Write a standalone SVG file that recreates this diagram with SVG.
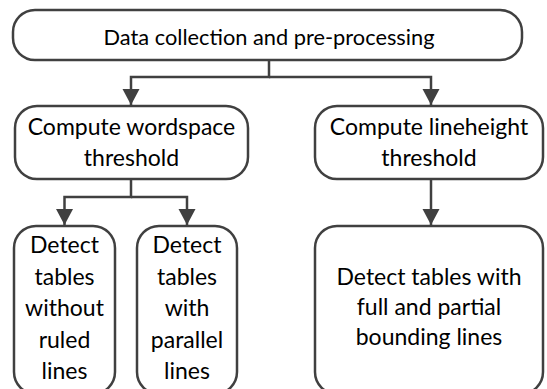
<svg xmlns="http://www.w3.org/2000/svg" width="547" height="389" viewBox="0 0 547 389">
<defs>
<marker id="arr" markerUnits="userSpaceOnUse" markerWidth="18" markerHeight="18" viewBox="0 0 18 18" refX="16" refY="9" orient="auto">
<path d="M0,0.5 L16,9 L0,17.5 Z" fill="#404040"/>
</marker>
<style>
.box{fill:#fff;stroke:#404040;stroke-width:2.5}
.t{font-family:Lato,"Noto Sans",sans-serif;font-size:23px;fill:#000;text-anchor:middle}
.c{fill:none;stroke:#404040;stroke-width:2.5}
</style>
</defs>
<rect width="547" height="389" fill="#fff"/>
<g id="connectors">
<path class="c" d="M269,60 V77 H131 V105" marker-end="url(#arr)"/>
<path class="c" d="M269,77 H431 V105" marker-end="url(#arr)"/>
<path class="c" d="M131,179 V197 H64.5 V225" marker-end="url(#arr)"/>
<path class="c" d="M131,197 H187 V225" marker-end="url(#arr)"/>
<path class="c" d="M431,179 V225" marker-end="url(#arr)"/>
</g>
<g id="data">
<rect class="box" x="13" y="10" width="509" height="50" rx="22"/>
<text class="t" x="269" y="45" style="font-size:21.8px">Data collection and pre-processing</text>
</g>
<g id="wordspace">
<rect class="box" x="15" y="106" width="233" height="73" rx="22"/>
<text class="t" x="131.5" y="135">Compute wordspace</text>
<text class="t" x="131.5" y="165.5">threshold</text>
</g>
<g id="lineheight">
<rect class="box" x="315" y="106" width="228" height="73" rx="22"/>
<text class="t" x="429" y="135">Compute lineheight</text>
<text class="t" x="429" y="165.5">threshold</text>
</g>
<g id="without">
<rect class="box" x="14" y="226" width="101" height="168" rx="22"/>
<text class="t" x="64.5" y="253">Detect</text>
<text class="t" x="64.5" y="284.5">tables</text>
<text class="t" x="64.5" y="316">without</text>
<text class="t" x="64.5" y="347.5">ruled</text>
<text class="t" x="64.5" y="379">lines</text>
</g>
<g id="parallel">
<rect class="box" x="137" y="226" width="100" height="168" rx="22"/>
<text class="t" x="187" y="253">Detect</text>
<text class="t" x="187" y="284.5">tables</text>
<text class="t" x="187" y="316">with</text>
<text class="t" x="187" y="347.5">parallel</text>
<text class="t" x="187" y="379">lines</text>
</g>
<g id="bounding">
<rect class="box" x="315" y="226" width="228" height="168" rx="22"/>
<text class="t" x="429" y="285">Detect tables with</text>
<text class="t" x="429" y="315">full and partial</text>
<text class="t" x="429" y="345">bounding lines</text>
</g>
</svg>
